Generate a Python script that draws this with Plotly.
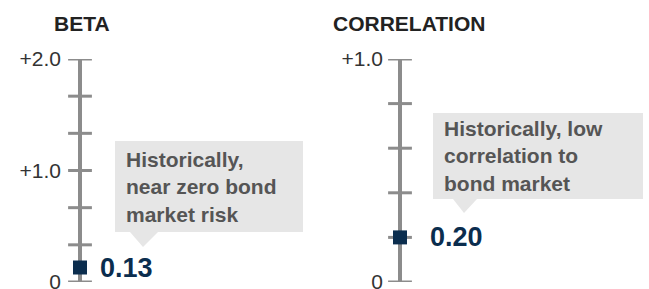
import plotly.graph_objects as go

# ---- data ----
panels = ["BETA", "CORRELATION"]
values = [0.13, 0.20]
axis_max = [2.0, 1.0]
minor_ticks = [[0, 1/3, 2/3, 1.0, 4/3, 5/3, 2.0], [0, 0.2, 0.4, 0.6, 0.8, 1.0]]
label_vals = [[0, 1.0, 2.0], [0, 1.0]]
label_text = [["0", "+1.0", "+2.0"], ["0", "+1.0"]]
notes = ["Historically,<br>near zero bond<br>market risk",
         "Historically, low<br>correlation to<br>bond market"]

W, H = 649, 289
def px(x): return x / W
def py(y): return 1 - y / H

GRAY = "#8c8c8c"
NAVY = "#0b2d4e"
BOX = "#e6e6e6"
FONT = "Liberation Sans, Arial, sans-serif"

fig = go.Figure()
xnames = ["x", "x2"]
ynames = ["y", "y2"]
for i in range(2):
    fig.add_trace(go.Scatter(x=[0, 0], y=[0, axis_max[i]], mode="lines",
                             line=dict(color=GRAY, width=4), xaxis=xnames[i], yaxis=ynames[i],
                             hoverinfo="skip", showlegend=False))
    fig.add_trace(go.Scatter(x=[0] * len(minor_ticks[i]), y=minor_ticks[i], mode="markers",
                             marker=dict(symbol="line-ew", size=17, line=dict(color=GRAY, width=3)),
                             xaxis=xnames[i], yaxis=ynames[i], hoverinfo="skip", showlegend=False))
    fig.add_trace(go.Scatter(x=[0], y=[values[i]], mode="markers",
                             marker=dict(symbol="square", size=14, color=NAVY),
                             xaxis=xnames[i], yaxis=ynames[i], hoverinfo="skip", showlegend=False))

ydom = [py(282), py(59)]
yax_common = dict(domain=ydom, anchor="free", showgrid=False, zeroline=False,
                  showline=False, ticks="", ticklabeloverflow="allow", automargin=False,
                  tickfont=dict(family=FONT, size=21, color="#333333"), fixedrange=True)
fig.update_layout(
    width=W, height=H, margin=dict(l=0, r=0, t=0, b=0, autoexpand=False),
    paper_bgcolor="white", plot_bgcolor="white",
    showlegend=False,
    xaxis=dict(domain=[0, px(320)], range=[-80, 240], visible=False, fixedrange=True, automargin=False),
    xaxis2=dict(domain=[px(320), 1], range=[-80, 249], visible=False, fixedrange=True, automargin=False),
    yaxis=dict(range=[0, axis_max[0]], position=px(61),
               tickvals=label_vals[0], ticktext=label_text[0], **yax_common),
    yaxis2=dict(range=[0, axis_max[1]], position=px(383),
                tickvals=label_vals[1], ticktext=label_text[1], **yax_common),
)

boxes = [(115, 141, 303, 232), (433, 113, 643, 199)]
tri = [(130, 158, 143, 247), (453, 477, 464, 213)]
title_x = [52, 331]
text_x = [124, 442]
val_shift = [18, 28]

for i in range(2):
    x0, y0, x1, y1 = boxes[i]
    fig.add_shape(type="rect", xref="paper", yref="paper",
                  x0=px(x0), x1=px(x1), y0=py(y1), y1=py(y0),
                  fillcolor=BOX, line=dict(width=0), layer="below")
    a, b, tx, ty = tri[i]
    path = f"M {px(a)} {py(y1)} L {px(b)} {py(y1)} L {px(tx)} {py(ty)} Z"
    fig.add_shape(type="path", xref="paper", yref="paper", path=path,
                  fillcolor=BOX, line=dict(width=0), layer="below")
    fig.add_annotation(xref="paper", yref="paper", x=px(text_x[i]), y=py((y0 + y1) / 2),
                       xanchor="left", yanchor="middle", align="left", showarrow=False,
                       text=f"<b>{notes[i]}</b>",
                       font=dict(family=FONT, size=21, color="#555555"))
    fig.add_annotation(xref="paper", yref="paper", x=px(title_x[i]), y=py(24),
                       xanchor="left", yanchor="middle", showarrow=False,
                       text=f"<b>{panels[i]}</b>",
                       font=dict(family=FONT, size=21, color="#222222"))
    fig.add_annotation(xref=xnames[i], yref=ynames[i], x=val_shift[i], y=values[i],
                       xanchor="left", yanchor="middle", showarrow=False,
                       text=f"<b>{values[i]:.2f}</b>",
                       font=dict(family=FONT, size=27, color=NAVY))

fig.write_html("out.html", config={"displayModeBar": False},
               post_script="document.body.style.margin='0';document.body.style.padding='0';")
